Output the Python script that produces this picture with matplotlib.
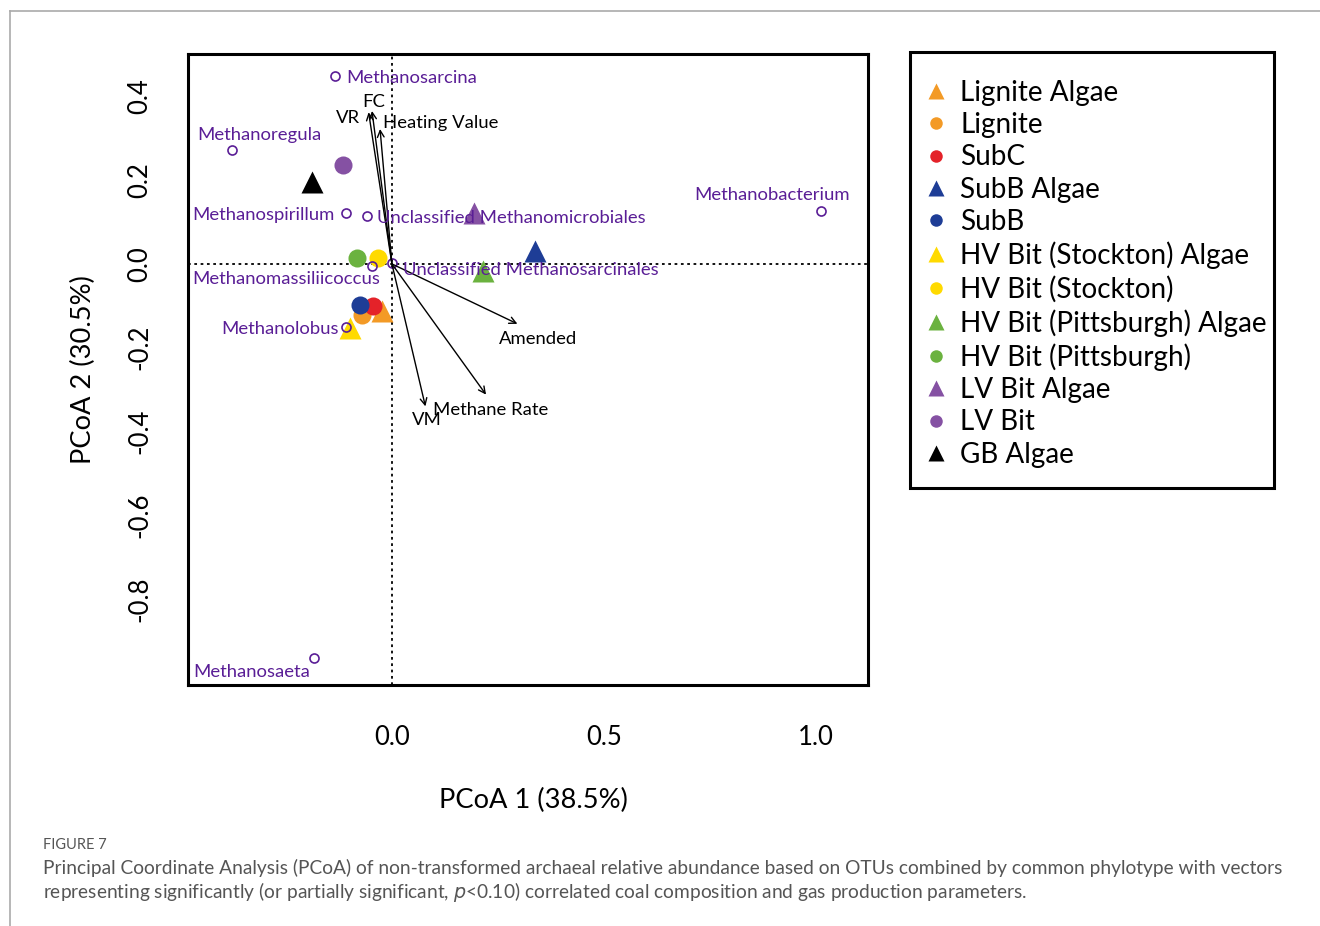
import numpy as np
import matplotlib
matplotlib.use("Agg")
import matplotlib.pyplot as plt
from matplotlib.lines import Line2D
from matplotlib.patches import Rectangle

plt.rcParams['font.family'] = ['Lato', 'DejaVu Sans']

# sample scores (PCoA 1, PCoA 2)
samples = ['Lignite Algae', 'Lignite', 'SubC', 'SubB Algae', 'SubB',
           'HV Bit (Stockton) Algae', 'HV Bit (Stockton)',
           'HV Bit (Pittsburgh) Algae', 'HV Bit (Pittsburgh)',
           'LV Bit Algae', 'LV Bit', 'GB Algae']
sample_x = [-0.024, -0.070, -0.045, 0.337, -0.076, -0.099, -0.034, 0.216, -0.083, 0.193, -0.115, -0.188]
sample_y = [-0.112, -0.121, -0.100, 0.031, -0.098, -0.152, 0.014, -0.017, 0.014, 0.121, 0.236, 0.195]
sample_marker = ['^', 'o', 'o', '^', 'o', '^', 'o', '^', 'o', '^', 'o', '^']
sample_color = ['#F39A26', '#F39A26', '#E42229', '#1E3D96', '#1E3D96', '#FFDA00', '#FFDA00',
                '#6BB23F', '#6BB23F', '#8551A3', '#8551A3', '#000000']

# taxa (open circles)
taxa = ['Methanosarcina', 'Methanoregula', 'Methanospirillum', 'Unclassified Methanomicrobiales',
        'Methanomassiliicoccus', 'Unclassified Methanosarcinales', 'Methanolobus',
        'Methanosaeta', 'Methanobacterium']
taxa_x = [-0.134, -0.377, -0.108, -0.059, -0.047, 0.0, -0.108, -0.184, 1.011]
taxa_y = [0.448, 0.272, 0.122, 0.115, -0.005, 0.002, -0.150, -0.941, 0.126]

# fitted vectors
vec_names = ['FC', 'VR', 'Heating Value', 'Amended', 'Methane Rate', 'VM']
vec_x = [-0.047, -0.055, -0.028, 0.296, 0.222, 0.079]
vec_y = [0.365, 0.362, 0.322, -0.143, -0.312, -0.340]

purple = '#5A1E96'

fig = plt.figure(figsize=(13.2, 9.26), dpi=100)
ax = fig.add_axes([188/1320, 1 - 685/926, 680/1320, 631/926])

ax.set_xlim(-0.481, 1.123)
ax.set_ylim(-1.005, 0.501)

ax.axvline(0, color='black', ls=(0, (1.5, 2)), lw=1.3, zorder=1)
ax.axhline(0, color='black', ls=(0, (1.5, 2)), lw=1.3, zorder=1)

# samples
for i in range(len(samples)):
    ms = 15.5 if sample_marker[i] == '^' else 13
    ax.plot(sample_x[i], sample_y[i], marker=sample_marker[i], color=sample_color[i],
            ms=ms, ls='none', mec='none', zorder=3)

# taxa
ax.plot(taxa_x, taxa_y, 'o', mfc='none', mec=purple, ms=6.5, mew=1.2, zorder=4)
# label offsets in points (dx, dy, ha, va)
taxa_lab = [(8, -1.5, 'left', 'center'), (20, 5, 'center', 'bottom'), (-8, -1.5, 'right', 'center'),
            (7, -1.5, 'left', 'center'), (6, -9.5, 'right', 'center'), (8, -5, 'left', 'center'),
            (-5, -1.5, 'right', 'center'), (-3, -10, 'right', 'center'), (-35, 6, 'center', 'bottom')]
for i in range(len(taxa)):
    dx, dy, ha, va = taxa_lab[i]
    ax.annotate(taxa[i], (taxa_x[i], taxa_y[i]), xytext=(dx, dy), textcoords='offset points',
                ha=ha, va=va, color=purple, fontsize=13.3, zorder=5)

# vectors
for i in range(len(vec_names)):
    ax.annotate('', xy=(vec_x[i], vec_y[i]), xytext=(0, 0),
                arrowprops=dict(arrowstyle='->', color='black', lw=1.0, mutation_scale=12,
                                shrinkA=0, shrinkB=0), zorder=4)
vec_lab = [(1, 1, 'center', 'bottom'), (-6, -4, 'right', 'center'), (2, 4, 'left', 'center'),
           (15, -5.5, 'center', 'top'), (-38, -5, 'left', 'top'), (1, -4, 'center', 'top')]
for i in range(len(vec_names)):
    dx, dy, ha, va = vec_lab[i]
    ax.annotate(vec_names[i], (vec_x[i], vec_y[i]), xytext=(dx, dy), textcoords='offset points',
                ha=ha, va=va, color='black', fontsize=13.3, zorder=5)

ax.set_xticks([0.0, 0.5, 1.0])
ax.set_yticks([-0.8, -0.6, -0.4, -0.2, 0.0, 0.2, 0.4])
ax.set_xticklabels(['0.0', '0.5', '1.0'])
ax.set_yticklabels(['-0.8', '-0.6', '-0.4', '-0.2', '0.0', '0.2', '0.4'], rotation=90, va='center')
ax.tick_params(length=0, labelsize=18.5)
ax.tick_params(axis='x', pad=29)
ax.tick_params(axis='y', pad=26)
ax.set_xlabel('PCoA 1 (38.5%)', fontsize=19.6, labelpad=27)
ax.xaxis.set_label_coords(0.508, -0.12 - 27/631)
ax.set_ylabel('PCoA 2 (30.5%)', fontsize=19.6, labelpad=22)
for s in ax.spines.values():
    s.set_linewidth(2.2)

# legend
handles = [Line2D([], [], marker=sample_marker[i], color=sample_color[i], ls='none',
                  ms=11 if sample_marker[i] == '^' else 9, mec='none') for i in range(len(samples))]
fig.legend(handles, samples, loc='upper left', bbox_to_anchor=(925/1320, 1 - 79.5/926),
           fontsize=20.1, frameon=False, handlelength=0.8, handletextpad=0.46,
           labelspacing=0.23, borderpad=0, borderaxespad=0)
fig.add_artist(Rectangle((910/1320, 1 - 488/926), 364/1320, 436/926, transform=fig.transFigure,
                         fill=False, edgecolor='black', lw=2.2))

# page frame and caption
fig.add_artist(Line2D([10/1320, 1], [1 - 11/926, 1 - 11/926], color='#aaaaaa', lw=1.2))
fig.add_artist(Line2D([10/1320, 10/1320], [0, 1 - 11/926], color='#aaaaaa', lw=1.2))
fig.text(43/1320, 1 - 845/926, 'FIGURE 7', fontsize=10.5, color='#555555', va='center')
fig.text(43/1320, 1 - 868/926,
         'Principal Coordinate Analysis (PCoA) of non-transformed archaeal relative abundance based on OTUs combined by common phylotype with vectors',
         fontsize=13.8, color='#555555', va='center')
fig.text(43/1320, 1 - 892/926,
         'representing significantly (or partially significant, $\\it{p}$<0.10) correlated coal composition and gas production parameters.',
         fontsize=13.8, color='#555555', va='center')

fig.savefig('out.png', dpi=100)
